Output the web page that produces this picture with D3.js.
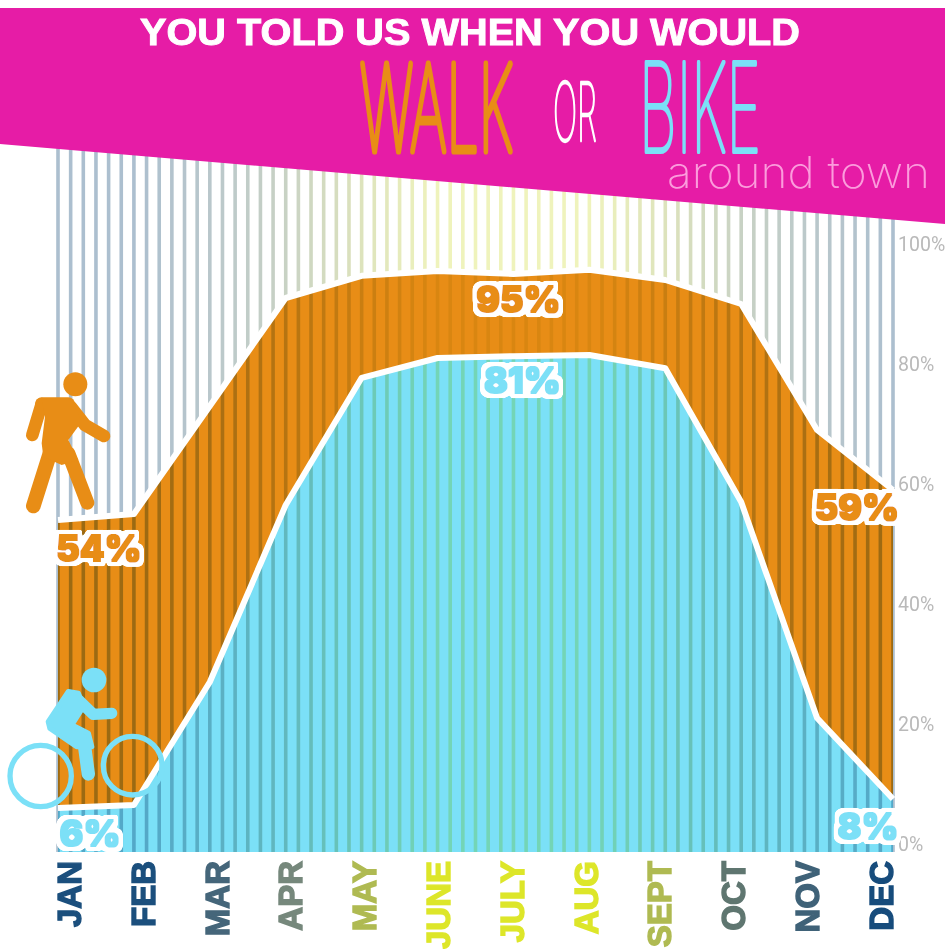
<!DOCTYPE html>
<html><head><meta charset="utf-8">
<script src="https://cdn.jsdelivr.net/npm/d3@7"></script>
<style>html,body{margin:0;padding:0;background:#fff;overflow:hidden}svg{display:block}</style>
</head><body><svg id="c" width="945" height="949"></svg>
<script>
const months = ["JAN","FEB","MAR","APR","MAY","JUNE","JULY","AUG","SEPT","OCT","NOV","DEC"];
const walk = [54,55,73,91,94.7,95.5,95,95.7,94,90,69,59];
const bike = [6,6.5,27,56.5,77.7,81,81.3,81.5,79.3,57,21,7.5];
const axisTicks = [0,20,40,60,80,100];
const monthColors = ["#1b4f7d","#1b4f7d","#45667a","#76887c","#afba52","#dde629","#dde629","#dde629","#afba52","#5f7670","#3f6278","#174c7c"];
const stripeColors = ["#acbfcf","#acbfcf","#b9c7cb","#c8d2c4","#dde3bc","#eff3bc","#eff3bc","#eff3bc","#dde3bc","#c8d2c4","#b9c7cb","#acbfcf"];
const stripesPerMonth = 6;
const PINK="#e61ca6", ORANGE="#e88d16", BLUE="#7be0f7";

const svg = d3.select("#c");
const x = d3.scaleLinear().domain([0,11]).range([58,893]);
const y = d3.scaleLinear().domain([0,100]).range([844,244]);
const labelX = d3.scalePoint().domain(months).range([69,881]);
const floorPct = -1.33, stripeTopPct = 120;
const stripeColor = d3.scaleLinear().domain(d3.range(12)).range(stripeColors);

const defs = svg.append("defs");
const halo = defs.append("filter").attr("id","halo").attr("x","-20%").attr("y","-30%").attr("width","140%").attr("height","160%");
halo.append("feMorphology").attr("in","SourceAlpha").attr("operator","dilate").attr("radius",4.5).attr("result","d");
halo.append("feGaussianBlur").attr("in","d").attr("stdDeviation",1.2).attr("result","b");
const ct = halo.append("feComponentTransfer").attr("in","b").attr("result","s");
ct.append("feFuncA").attr("type","linear").attr("slope",5).attr("intercept",-1.6);
halo.append("feFlood").attr("flood-color","#fff").attr("result","w");
halo.append("feComposite").attr("in","w").attr("in2","s").attr("operator","in").attr("result","ring");
halo.append("feMorphology").attr("in","SourceGraphic").attr("operator","dilate").attr("radius",0.7).attr("result","fat");
const hm = halo.append("feMerge");
hm.append("feMergeNode").attr("in","ring");
hm.append("feMergeNode").attr("in","fat");

const areaOf = vals => d3.area().x((d,i)=>x(i)).y0(y(floorPct)).y1(d=>y(d))(vals);
const lineOf = vals => d3.line().x((d,i)=>x(i)).y(d=>y(d))(vals);

svg.append("path").attr("d",areaOf(walk)).attr("fill",ORANGE);
svg.append("path").attr("d",areaOf(bike)).attr("fill",BLUE);

svg.append("g").style("mix-blend-mode","multiply")
  .selectAll("rect").data(d3.range(0,11+1/stripesPerMonth/2,1/stripesPerMonth)).join("rect")
  .attr("x",d=>x(d)-1.8).attr("width",3.6)
  .attr("y",y(stripeTopPct)).attr("height",y(floorPct)-y(stripeTopPct))
  .attr("fill",d=>stripeColor(d));

[walk,bike].forEach(v=>svg.append("path").attr("d",lineOf(v)).attr("fill","none")
  .attr("stroke","#fff").attr("stroke-width",6).attr("stroke-linejoin","round"));

svg.append("path").attr("d","M0,8L945,8L945,224L0,144Z").attr("fill",PINK);

svg.append("text").text("YOU TOLD US WHEN YOU WOULD")
  .attr("x",140).attr("y",45).attr("textLength",660).attr("lengthAdjust","spacingAndGlyphs")
  .attr("font-family","'Liberation Sans',Arial,sans-serif").attr("font-weight",700)
  .attr("font-size",36).attr("fill","#fff").attr("stroke","#fff").attr("stroke-width",0.9);

function fitWord(text,x0,x1,base,top,color,sw){
  const fs=120;
  const t=svg.append("text").text(text).attr("font-family","Inter,sans-serif").attr("font-weight",100)
    .attr("font-size",fs).attr("fill",color).attr("stroke",color).attr("stroke-width",sw)
    .attr("stroke-linejoin","round");
  const w=t.node().getComputedTextLength();
  t.attr("transform",`translate(${x0},${base}) scale(${(x1-x0)/w},${(base-top)/(fs*0.727)})`);
}
fitWord("WALK",360,513,151,64,ORANGE,7);
fitWord("OR",553,597,141,82,"#fff",4);
fitWord("BIKE",639,761,152,62,BLUE,4);

svg.append("text").text("around town").attr("x",667).attr("y",188)
  .attr("textLength",263).attr("lengthAdjust","spacingAndGlyphs")
  .attr("font-family","Inter,sans-serif").attr("font-weight",200)
  .attr("font-size",44).attr("fill","#fb9cdc");

const axis = svg.append("g").attr("transform",`translate(${x(11)},0)`)
  .call(d3.axisRight(y).tickValues(axisTicks).tickSize(0).tickPadding(5).tickFormat(d=>d+"%"));
axis.select(".domain").remove();
axis.selectAll("text").attr("font-family","Roboto,sans-serif").attr("font-size",19.5).attr("fill","#b9b9b9");

svg.append("g").selectAll("text").data(months).join("text")
  .text(d=>d).attr("text-anchor","end").attr("dy",".36em")
  .attr("transform",d=>`translate(${labelX(d)},861) rotate(-90)`)
  .attr("font-family","'Liberation Sans',Arial,sans-serif").attr("font-weight",700).attr("font-size",33)
  .attr("fill",(d,i)=>monthColors[i]).attr("stroke",(d,i)=>monthColors[i]).attr("stroke-width",1.4);

// Icons: round-capped limbs plus a body shape, drawn in 3x crop units
function limbs(g,color,list){
  g.selectAll("path.limb").data(list).join("path").attr("class","limb").attr("d",d=>d[0]).attr("stroke-width",d=>d[1])
   .attr("fill","none").attr("stroke",color).attr("stroke-linecap","round").attr("stroke-linejoin","round");
}
const walker = svg.append("g").attr("transform","translate(0,360) scale(0.3333)");
limbs(walker,ORANGE,[
  ["M125,132L205,132",40],["M125,132L97,225",38],["M212,140L255,195L312,228",38],
  ["M150,280L100,438",44],["M205,280L262,428",42]]);
walker.append("path").attr("fill",ORANGE).attr("d","M125,120L215,120L245,185L205,240L235,300L185,315L130,290L125,250L135,170Z");
walker.append("circle").attr("cx",226).attr("cy",73).attr("r",36).attr("fill",ORANGE);

const rider = svg.append("g").attr("transform","translate(0,650) scale(0.3333)");
limbs(rider,BLUE,[
  ["M225,140L280,193L335,190",34],["M250,262L265,372",40]]);
rider.append("path").attr("fill",BLUE).attr("stroke",BLUE).attr("stroke-width",16).attr("stroke-linejoin","round")
  .attr("d","M205,125L235,130L250,170L215,225L265,250L275,290L230,290L150,235L145,215Z");
rider.append("circle").attr("cx",282).attr("cy",90).attr("r",37).attr("fill",BLUE);
rider.append("circle").attr("cx",122).attr("cy",378).attr("r",92).attr("fill","none").attr("stroke",BLUE).attr("stroke-width",16);
rider.append("circle").attr("cx",398).attr("cy",347).attr("r",88).attr("fill","none").attr("stroke",BLUE).attr("stroke-width",16);

const callouts = [
  {i:0,series:walk,text:"54%",dx:41,dy:28,color:ORANGE},
  {i:11,series:walk,text:"59%",dx:-36,dy:17,color:ORANGE},
  {i:6,series:walk,text:"95%",dx:5,dy:25,color:ORANGE},
  {i:6,series:bike,text:"81%",dx:9,dy:24,color:BLUE},
  {i:0,series:bike,text:"6%",dx:32,dy:25,color:BLUE},
  {i:11,series:bike,text:"8%",dx:-25,dy:27,color:BLUE}
];
svg.append("g").selectAll("text").data(callouts).join("text")
  .text(d=>d.text).attr("x",d=>x(d.i)+d.dx).attr("y",d=>y(d.series[d.i])+d.dy)
  .attr("dy",".36em").attr("text-anchor","middle")
  .attr("font-family","Inter,sans-serif").attr("font-weight",800).attr("font-size",36)
  .attr("fill",d=>d.color).attr("filter","url(#halo)");
</script></body></html>
